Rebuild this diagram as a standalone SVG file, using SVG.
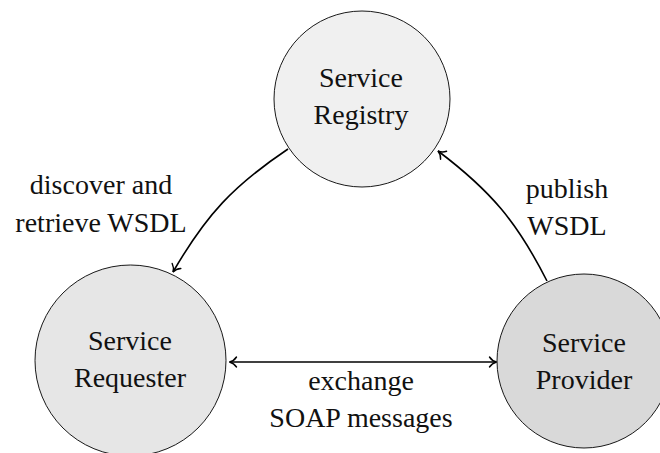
<svg xmlns="http://www.w3.org/2000/svg" width="660" height="453" viewBox="0 0 660 453">
<style>
.node circle{stroke:#000;stroke-width:0.9}
text{font-family:"Liberation Serif","DejaVu Serif",serif;font-size:28px;fill:#111;text-anchor:middle}
.edge{fill:none;stroke:#000;stroke-width:1.6}
</style>
<defs>
<marker id="tip" markerUnits="userSpaceOnUse" markerWidth="20" markerHeight="20" refX="0" refY="0" orient="auto-start-reverse" viewBox="-10 -10 20 20" overflow="visible">
<path d="M -7,-5 C -5,-2 -2,-0.5 0,0 C -2,0.5 -5,2 -7,5" fill="none" stroke="#000" stroke-width="1.4" stroke-linecap="round"/>
</marker>
</defs>
<rect width="660" height="453" fill="#fff"/>
<g id="registry" class="node">
<circle cx="362" cy="99" r="88" fill="#f0f0f0"/>
<text x="361" y="87">Service</text>
<text x="361" y="124">Registry</text>
</g>
<g id="requester" class="node">
<circle cx="130.5" cy="360.5" r="95.5" fill="#e6e6e6"/>
<text x="130" y="350">Service</text>
<text x="130" y="387">Requester</text>
</g>
<g id="provider" class="node">
<circle cx="584" cy="361" r="87" fill="#d9d9d9"/>
<text x="584" y="352">Service</text>
<text x="584" y="389">Provider</text>
</g>
<g id="connectors">
<path class="edge" d="M 288,149 C 233.2,185.8 206.1,214.9 173,272" marker-end="url(#tip)"/>
<path class="edge" d="M 547,281 C 516.9,221.8 491,191 438,151" marker-end="url(#tip)"/>
<path class="edge" d="M 229.5,362 L 496.5,362" marker-start="url(#tip)" marker-end="url(#tip)"/>
<text x="101" y="194">discover and</text>
<text x="101" y="232">retrieve WSDL</text>
<text x="567" y="198">publish</text>
<text x="567" y="235">WSDL</text>
<text x="361" y="390">exchange</text>
<text x="361" y="427">SOAP messages</text>
</g>
</svg>
